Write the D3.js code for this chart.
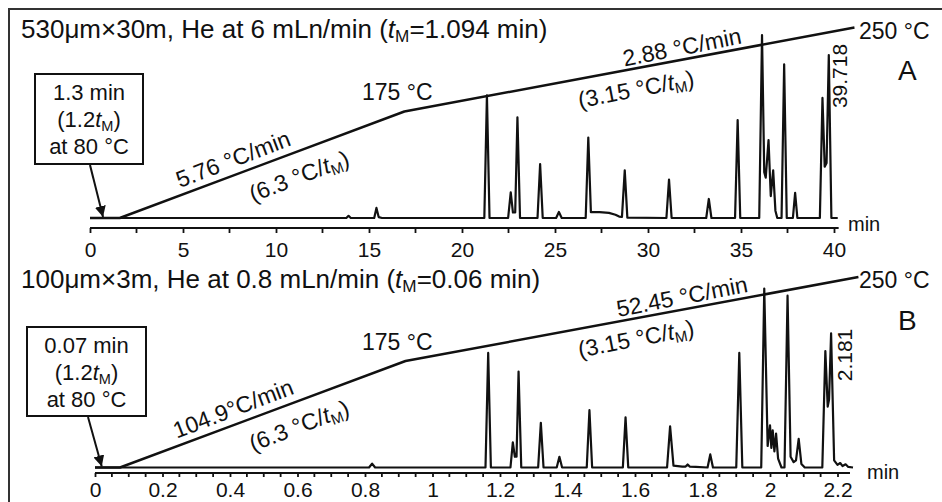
<!DOCTYPE html>
<html>
<head>
<meta charset="utf-8">
<script src="https://cdn.jsdelivr.net/npm/d3@7"></script>
<style>
  body { margin: 0; background: #fff; }
  text { font-family: "Liberation Sans", Arial, Helvetica, sans-serif; fill: #111; }
</style>
</head>
<body>
<svg id="chart"></svg>
<script>
// --- data ------------------------------------------------------------
// chromatogram traces: [retention time (min), signal (% of tallest peak)]
const traceA = [
  [0,0],[13.78,0],[13.9,1.2],[14.02,0],
  [15.28,0],[15.4,5.5],[15.52,0.5],[15.7,0],
  [21.2,0],[21.34,67],[21.48,0],
  [22.48,0],[22.62,14],[22.74,3],[22.86,3],[22.98,55],[23.12,0],
  [24.06,0],[24.2,29.5],[24.34,0],
  [25.06,0],[25.21,3.3],[25.36,0],
  [26.65,0],[26.79,44],[26.93,3.2],[27.4,3.2],[27.9,2.8],[28.25,1.8],[28.45,0.8],[28.6,0.6],[28.75,26],[28.89,0.2],
  [30.99,0],[31.13,21],[31.27,0],
  [33.13,0],[33.27,10.4],[33.41,0],
  [34.68,0],[34.82,53.5],[34.96,0],
  [35.98,0],[36.13,100],[36.25,25],[36.33,22],[36.48,42.6],[36.6,12],[36.73,26],[36.85,4],[36.95,0],
  [37.18,0],[37.32,84],[37.46,0],
  [37.79,0],[37.91,13.7],[38.03,0],
  [39.24,0],[39.38,65.6],[39.5,28],[39.6,30],[39.72,89],[39.86,0],
  [40.2,0]
];
const traceB = [
  [0,0],[0.812,0],[0.821,2.2],[0.83,0],
  [1.157,0],[1.165,64],[1.173,0],
  [1.231,0],[1.238,14],[1.244,6],[1.249,6],[1.255,53.6],[1.263,0],
  [1.313,0],[1.321,25],[1.329,0],
  [1.368,0],[1.376,6],[1.384,0],
  [1.457,0],[1.465,32],[1.473,0],
  [1.564,0],[1.572,28],[1.58,0],
  [1.695,0],[1.704,23],[1.714,1],[1.74,0.5],[1.75,0.5],[1.756,1.7],[1.762,0.5],[1.78,0.4],
  [1.815,0],[1.823,7.3],[1.831,0],
  [1.9,0],[1.909,64],[1.918,0],
  [1.974,0],[1.983,100],[1.993,12],[2.0,23.5],[2.004,11],[2.008,20.7],[2.013,9],[2.018,19],[2.024,5],[2.034,0],
  [2.043,0],[2.052,96],[2.061,6],[2.07,3],[2.077,4],[2.085,16],[2.093,2],[2.103,0],
  [2.155,0],[2.164,65],[2.171,34],[2.175,38],[2.181,75],[2.19,4],[2.2,1.5],[2.208,2.5],[2.215,0.8],[2.224,1.8],[2.232,0.3],[2.246,0]
];

// oven program as drawn: [time (min), temperature (°C)]
const tempA = [[0,80],[1.6,80],[16.9,175],[41.1,250]];
const tempB = [[0,80],[0.074,80],[0.92,175],[2.262,250]];

// axis ticks
const ticksA = [0,5,10,15,20,25,30,35,40];
const minorA = [2.5,7.5,12.5,17.5,22.5,27.5,32.5,37.5];
const ticksB = [0,0.2,0.4,0.6,0.8,1,1.2,1.4,1.6,1.8,2,2.2];
const minorB = d3.range(1, 45).filter(i => i % 4 !== 0).map(i => i * 0.05);

// texts
const titles = ['530μm×30m, He at 6 mLn/min ({tM}=1.094 min)', '100μm×3m, He at 0.8 mLn/min ({tM}=0.06 min)'];
const holdBox = [['1.3 min', '(1.2{tM})', 'at 80 °C'], ['0.07 min', '(1.2{tM})', 'at 80 °C']];
const rate1 = ['5.76 °C/min', '104.9°C/min'];
const rate2 = ['2.88 °C/min', '52.45 °C/min'];
const lastPeak = ['39.718', '2.181'];
const panelNames = ['A', 'B'];

// --- drawing ---------------------------------------------------------
const width = 942, height = 502;
const svg = d3.select('#chart').attr('width', width).attr('height', height);
svg.append('rect').attr('width', width).attr('height', height).attr('fill', '#fff');

// scan frame (top and left edges)
svg.append('path').attr('d', 'M9,502V9H942')
  .attr('fill', 'none').attr('stroke', '#333').attr('stroke-width', 2);

svg.append('defs').append('marker')
  .attr('id', 'arrow').attr('viewBox', '0 0 10 10')
  .attr('refX', 10).attr('refY', 5)
  .attr('markerWidth', 11).attr('markerHeight', 11)
  .attr('markerUnits', 'userSpaceOnUse').attr('orient', 'auto')
  .append('path').attr('d', 'M0,0L10,5L0,10Z').attr('fill', '#111');

// text with italic t and subscript M
function addText(parent, str, size) {
  const t = parent.append('text').style('font-size', size + 'px');
  str.split('{tM}').forEach((p, i) => {
    if (i > 0) {
      t.append('tspan').style('font-style', 'italic').text('t');
      t.append('tspan').style('font-size', (size * 0.66) + 'px').attr('dy', size * 0.17).text('M');
      t.append('tspan').attr('dy', -size * 0.17).text(p);
    } else {
      t.append('tspan').text(p);
    }
  });
  return t;
}

function drawPanel(k, o) {
  const g = svg.append('g');
  const x = d3.scaleLinear().domain(o.xDomain).range(o.xRange);
  const ySig = d3.scaleLinear().domain([0, 100]).range([o.base, o.top]);
  const yTemp = d3.scaleLinear().domain([80, 250]).range([o.base, o.base - 190.5]);

  // axis
  const axis = g.append('g').attr('transform', `translate(0,${o.axisY})`);
  axis.call(d3.axisBottom(x).tickValues(o.ticks).tickSize(o.tick).tickPadding(o.pad)
      .tickFormat(d => String(d)))
    .call(a => a.select('.domain').remove())
    .call(a => a.selectAll('line').attr('stroke', '#111').attr('stroke-width', 1.8))
    .call(a => a.selectAll('text').style('font-size', '21px').attr('fill', '#111')
      .style('font-family', '"Liberation Sans", Arial, sans-serif'));
  axis.selectAll('.minor').data(o.minor).enter().append('line')
    .attr('x1', d => x(d)).attr('x2', d => x(d))
    .attr('y1', 0).attr('y2', o.tick)
    .attr('stroke', '#111').attr('stroke-width', 1.8);
  axis.append('line')
    .attr('x1', x(0)).attr('x2', x(o.axisEnd))
    .attr('stroke', '#111').attr('stroke-width', 2.2);
  addText(g, 'min', 20).attr('x', o.minX).attr('y', o.minY);

  // oven temperature line
  g.append('path').datum(o.temp)
    .attr('d', d3.line().x(d => x(d[0])).y(d => yTemp(d[1])))
    .attr('fill', 'none').attr('stroke', '#111').attr('stroke-width', 2.5)
    .attr('stroke-linejoin', 'round');

  // chromatogram
  g.append('path').datum(o.trace)
    .attr('d', d3.line().x(d => x(d[0])).y(d => ySig(d[1])))
    .attr('fill', 'none').attr('stroke', '#111').attr('stroke-width', 2.2)
    .attr('stroke-linejoin', 'round');

  // title and labels
  addText(g, titles[k], 26).attr('x', 21).attr('y', o.titleY);
  addText(g, '175 °C', 23).attr('x', 362).attr('y', o.base - 118);
  addText(g, '250 °C', 23).attr('x', 859).attr('y', yTemp(250) + 11);
  addText(g, panelNames[k], 28).attr('x', 898).attr('y', o.base - 138);

  const rot = (txt, cx, cy, ang, size) =>
    addText(g, txt, size).attr('text-anchor', 'middle').attr('dy', '0.35em')
      .attr('transform', `translate(${cx},${cy}) rotate(${ang})`);
  rot(rate1[k], 233, o.base - 59, -21, 23);
  rot('(6.3 °C/{tM})', 299, o.base - 42, -21, 23);
  rot(rate2[k], 682, o.base - 171, -11, 23);
  rot('(3.15 °C/{tM})', 636, o.base - 129, -11, 23);
  addText(g, lastPeak[k], 21).attr('text-anchor', 'middle')
    .attr('transform', `translate(${o.labX},${o.labY}) rotate(-90)`);

  // hold-time box with arrow
  const bx = o.box;
  g.append('rect').attr('x', bx[0]).attr('y', bx[1]).attr('width', bx[2]).attr('height', bx[3])
    .attr('fill', '#fff').attr('stroke', '#111').attr('stroke-width', 2);
  holdBox[k].forEach((s, i) => {
    addText(g, s, 22).attr('text-anchor', 'middle')
      .attr('x', bx[0] + bx[2] / 2).attr('y', bx[1] + 26 + i * 27);
  });
  g.append('line')
    .attr('x1', bx[0] + o.arrowDx).attr('y1', bx[1] + bx[3] + 1)
    .attr('x2', x(o.arrowT)).attr('y2', yTemp(80) - 1)
    .attr('stroke', '#111').attr('stroke-width', 2).attr('marker-end', 'url(#arrow)');
}

drawPanel(0, {
  xDomain: [0, 40], xRange: [90, 834], base: 218, top: 35,
  axisY: 228, axisEnd: 40.25, tick: 5, pad: 9, ticks: ticksA, minor: minorA,
  minX: 848, minY: 231, temp: tempA, trace: traceA, titleY: 38,
  labX: 847, labY: 76, box: [35, 74, 108, 90], arrowDx: 55, arrowT: 0.7
});
drawPanel(1, {
  xDomain: [0, 2.2], xRange: [95, 837.5], base: 467.5, top: 288.5,
  axisY: 473, axisEnd: 2.237, tick: 4, pad: 5, ticks: ticksB, minor: minorB,
  minX: 867, minY: 479, temp: tempB, trace: traceB, titleY: 288,
  labX: 852, labY: 355, box: [27, 327, 119, 89], arrowDx: 61, arrowT: 0.02
});
</script>
</body>
</html>
